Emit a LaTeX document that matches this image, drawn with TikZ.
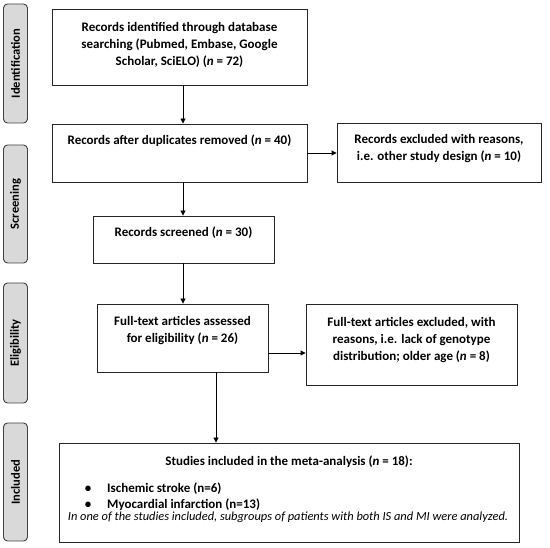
\documentclass[tikz,border=0pt]{standalone}
\usepackage{fontspec}
\setmainfont{Carlito}
\usetikzlibrary{arrows.meta}
\tikzset{
  box/.style={draw=black!85, line width=0.9pt, fill=white, inner sep=0pt},
  txt/.style={font=\bfseries\fontsize{13}{17}\selectfont, align=center, inner sep=0pt, anchor=base},
  side/.style={draw=black!75, line width=0.9pt, fill=black!15, rounded corners=4pt, inner sep=0pt},
  sidetxt/.style={font=\bfseries\fontsize{12.5}{14}\selectfont, rotate=90, inner sep=0pt},
  arr/.style={draw=black, line width=0.9pt, -{Triangle[length=5pt,width=5pt]}}
}
\newcommand{\nn}{\textit{n}}
\begin{document}
\begin{tikzpicture}[x=1pt,y=-1pt]
\useasboundingbox (0,0) rectangle (550,548);
% side labels
\node[side, minimum width=24pt, minimum height=119pt] (sid) at (15.5,63.5) {};
\node[sidetxt] at (sid.center) {Identification};
\node[side, minimum width=24pt, minimum height=118pt] (sscr) at (15.5,204) {};
\node[sidetxt] at (sscr.center) {Screening};
\node[side, minimum width=24pt, minimum height=120pt] (selig) at (15.5,343) {};
\node[sidetxt] at (selig.center) {Eligibility};
\node[side, minimum width=24pt, minimum height=118pt] (sinc) at (15.5,482) {};
\node[sidetxt] at (sinc.center) {Included};
% boxes
\node[box, minimum width=255pt, minimum height=76pt] (b1) at (179.5,47) {};
\node[txt] at (179.5,66) {Records identified through database\\searching (Pubmed, Embase, Google\\Scholar, SciELO) (\nn{} = 72)};
\node[box, minimum width=255pt, minimum height=58pt] (b2) at (179.5,153) {};
\node[txt] at (179.5,145) {Records after duplicates removed (\nn{} = 40)};
\node[box, minimum width=204pt, minimum height=59pt] (e1) at (439,152.5) {};
\node[txt] at (439,161) {Records excluded with reasons,\\i.e. other study design (\nn{} = 10)};
\node[box, minimum width=181pt, minimum height=47pt] (b3) at (183.5,239.5) {};
\node[txt] at (183.5,237) {Records screened (\nn{} = 30)};
\node[box, minimum width=171pt, minimum height=68pt] (b4) at (182.5,338) {};
\node[txt] at (182.5,343) {Full-text articles assessed\\for eligibility (\nn{} = 26)};
\node[box, minimum width=211pt, minimum height=81pt] (e2) at (411.5,344.5) {};
\node[txt] at (411.5,361) {Full-text articles excluded, with\\reasons, i.e. lack of genotype\\distribution; older age (\nn{} = 8)};
\node[box, minimum width=460pt, minimum height=99pt] (b5) at (289,492.5) {};
\node[txt] at (289,466) {Studies included in the meta-analysis (\nn{} = 18):};
\node[txt, anchor=base] at (88,493) {\textbullet};
\node[txt, anchor=base west] at (107,493) {Ischemic stroke (n=6)};
\node[txt, anchor=base] at (88,509) {\textbullet};
\node[txt, anchor=base west] at (107,509) {Myocardial infarction (n=13)};
\node[txt, font=\itshape\fontsize{12.4}{17}\selectfont] at (288,521) {In one of the studies included, subgroups of patients with both IS and MI were analyzed.};
% connectors
\draw[arr] (b1.south -| 183,0) -- (b2.north -| 183,0);
\draw[arr] (b2.east |- 0,153) -- (e1.west |- 0,153);
\draw[arr] (b2.south -| 183,0) -- (b3.north -| 183,0);
\draw[arr] (b3.south -| 183,0) -- (b4.north -| 183,0);
\draw[arr] (b4.east |- 0,353) -- (e2.west |- 0,353);
\draw[arr] (b4.south -| 216,0) -- (b5.north -| 216,0);
\end{tikzpicture}
\end{document}
